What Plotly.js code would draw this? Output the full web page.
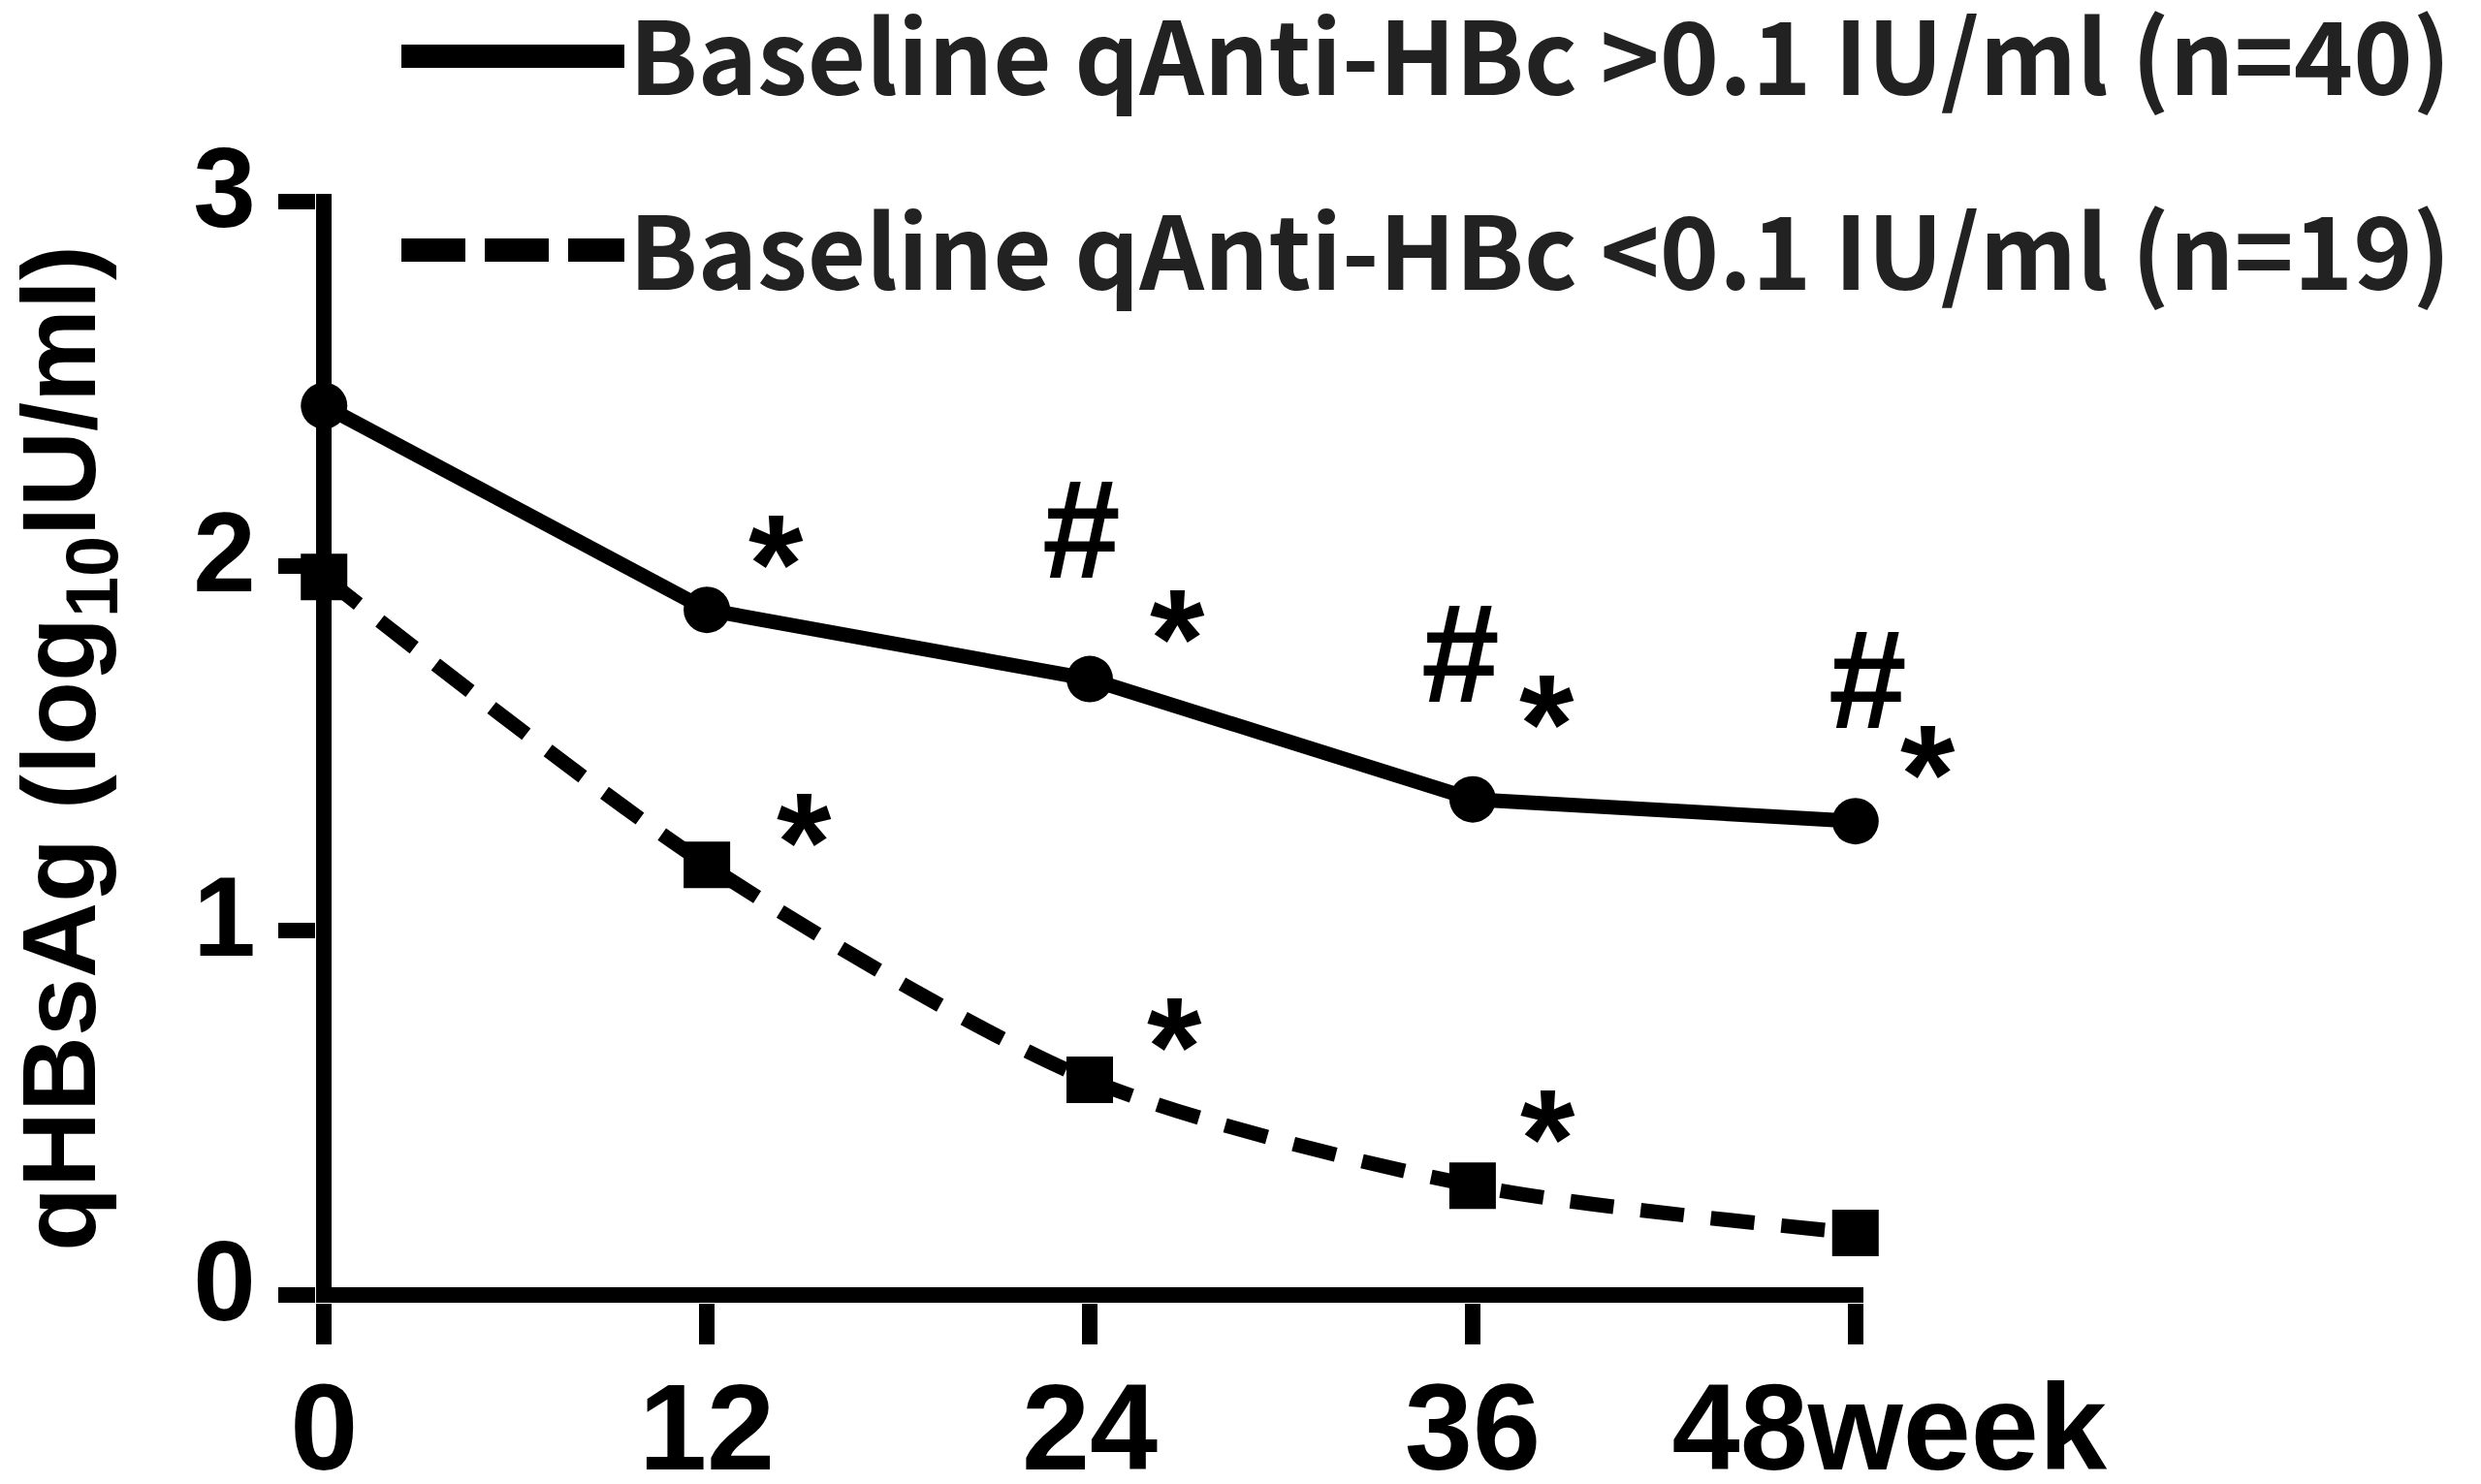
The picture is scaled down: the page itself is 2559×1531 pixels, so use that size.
<!DOCTYPE html>
<html>
<head>
<meta charset="utf-8">
<script src="https://cdn.plot.ly/plotly-3.0.1.min.js"></script>
<style>
  html, body { margin: 0; padding: 0; background: #fff; }
  #chart { width: 2559px; height: 1531px; }
</style>
</head>
<body>
<div id="chart"></div>
<script>
// weeks of follow-up
const weeks = [0, 12, 24, 36, 48]
const weekLabels = ['0', '12', '24', '36', '\u00a0\u00a048week']

// qHBsAg, log10 IU/ml
const highAntiHBc = [2.44, 1.88, 1.69, 1.36, 1.30]
const lowAntiHBc = [1.97, 1.18, 0.59, 0.30, 0.17]

const highName = 'Baseline qAnti-HBc >0.1 IU/ml (n=40)'
const lowName = 'Baseline qAnti-HBc <0.1 IU/ml (n=19)'

// significance marks: week, which series, symbol, pixel offset from the point
const sigMarks = [
    { week: 12, series: 'high', sym: '*', dx: 71, dy: -64 },
    { week: 24, series: 'high', sym: '#', dx: -9, dy: -146 },
    { week: 24, series: 'high', sym: '*', dx: 90, dy: -59 },
    { week: 36, series: 'high', sym: '#', dx: -12, dy: -142 },
    { week: 36, series: 'high', sym: '*', dx: 77, dy: -95 },
    { week: 48, series: 'high', sym: '#', dx: 13, dy: -137 },
    { week: 48, series: 'high', sym: '*', dx: 75, dy: -65 },
    { week: 12, series: 'low', sym: '*', dx: 100, dy: -40 },
    { week: 24, series: 'low', sym: '*', dx: 87, dy: -51 },
    { week: 36, series: 'low', sym: '*', dx: 78, dy: -65 }
]

const axisFont = 'Liberation Sans, Arial, sans-serif'
const legendFont = 'Noto Sans CJK KR, Noto Sans, sans-serif'

let traces = [
    {
        x: weeks, y: highAntiHBc, name: highName,
        mode: 'lines', legendgroup: 'a',
        line: { color: '#000', width: 15 },
        cliponaxis: false
    },
    {
        x: weeks, y: lowAntiHBc, name: lowName,
        mode: 'lines', legendgroup: 'b',
        line: { color: '#000', width: 15, dash: '45px,28px', shape: 'spline', smoothing: 0.8 },
        cliponaxis: false
    },
    {
        x: weeks, y: highAntiHBc, mode: 'markers', showlegend: false,
        marker: { symbol: 'circle', size: 48, color: '#000' },
        cliponaxis: false
    },
    {
        x: weeks, y: lowAntiHBc, mode: 'markers', showlegend: false,
        marker: { symbol: 'square', size: 48, color: '#000' },
        cliponaxis: false
    }
]

let annotations = sigMarks.map(m => {
    let i = weeks.indexOf(m.week)
    let yv = m.series == 'high' ? highAntiHBc[i] : lowAntiHBc[i]
    // asterisk ink sits high in the text box
    let inkAdj = m.sym == '*' ? 17 : -9
    return {
        x: m.week, y: yv, xref: 'x', yref: 'y',
        text: m.sym, showarrow: false,
        xshift: m.dx, yshift: -(m.dy + inkAdj),
        font: { family: axisFont, size: 145, color: '#000', weight: 'bold' }
    }
})

let layout = {
    width: 2559,
    height: 1531,
    margin: { l: 326, r: 637, t: 200, b: 187, autoexpand: false },
    paper_bgcolor: '#fff',
    plot_bgcolor: '#fff',
    showlegend: true,
    legend: {
        x: 0.052, y: 1.189, xanchor: 'left', yanchor: 'top',
        traceorder: 'grouped', tracegroupgap: 62,
        itemwidth: 230,
        font: { family: legendFont, size: 104, color: '#222', weight: 'bold' },
        bgcolor: 'rgba(0,0,0,0)'
    },
    xaxis: {
        range: [-0.25, 48.25],
        tickvals: weeks,
        ticktext: weekLabels,
        ticks: 'outside', ticklen: 42, tickwidth: 16, tickcolor: '#000',
        ticklabelstandoff: -22,
        showline: false, showgrid: false,
        zeroline: true, zerolinewidth: 16, zerolinecolor: '#000',
        tickfont: { family: axisFont, size: 126, color: '#000', weight: 'bold' },
        fixedrange: true
    },
    yaxis: {
        range: [-0.0215, 3.0215],
        tickvals: [0, 1, 2, 3],
        ticks: 'outside', ticklen: 38, tickwidth: 16, tickcolor: '#000',
        ticklabelshift: -15,
        showline: false, showgrid: false,
        zeroline: true, zerolinewidth: 16, zerolinecolor: '#000',
        tickfont: { family: axisFont, size: 116, color: '#000', weight: 'bold' },
        title: {
            text: 'qHBsAg (log<sub>10</sub>IU/ml)',
            font: { family: axisFont, size: 108, color: '#000', weight: 'bold' },
            standoff: 97
        },
        fixedrange: true
    },
    annotations: annotations
}

Plotly.newPlot('chart', traces, layout, { displayModeBar: false, staticPlot: true }).then(gd => {
    // legend samples are thicker in the original figure
    let samples = gd.querySelectorAll('.legendlines path')
    samples.forEach((p, k) => {
        p.style.strokeWidth = '24px'
        if (k == 1) p.style.strokeDasharray = '66px,20px'
    })
})
</script>
</body>
</html>
